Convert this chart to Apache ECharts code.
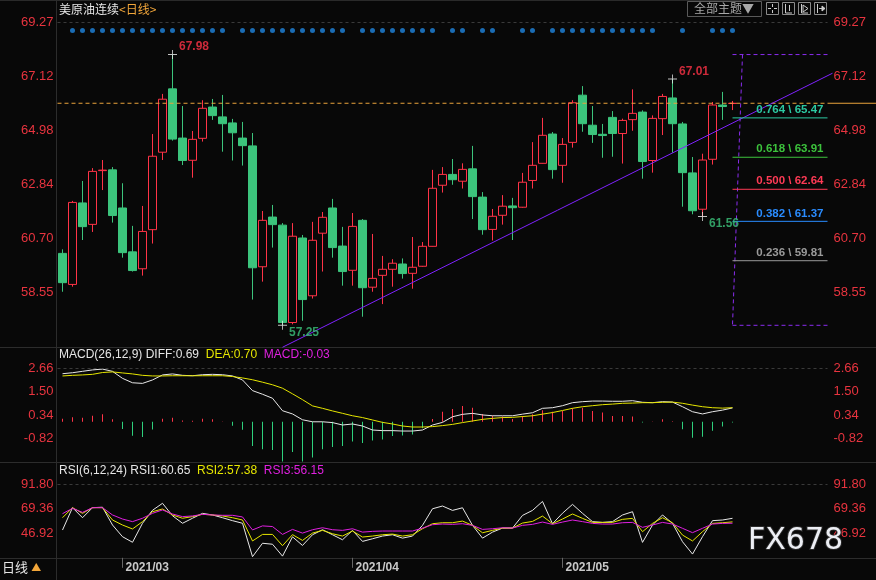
<!DOCTYPE html>
<html lang="zh-CN">
<head>
<meta charset="UTF-8">
<title>美原油连续 日线</title>
<script src="https://cdn.jsdelivr.net/npm/echarts@6/dist/echarts.min.js"></script>
<style>
  html, body { margin: 0; padding: 0; background: #080808; }
  #main { width: 876px; height: 580px; }
</style>
</head>
<body>
<div id="main"></div>
<script>
// ---- data ----
var dates = [
  '2021-02-19','2021-02-22','2021-02-23','2021-02-24','2021-02-25','2021-02-26',
  '2021-03-01','2021-03-02','2021-03-03','2021-03-04','2021-03-05','2021-03-08','2021-03-09','2021-03-10',
  '2021-03-11','2021-03-12','2021-03-15','2021-03-16','2021-03-17','2021-03-18','2021-03-19','2021-03-22',
  '2021-03-23','2021-03-24','2021-03-25','2021-03-26','2021-03-29','2021-03-30','2021-03-31',
  '2021-04-01','2021-04-05','2021-04-06','2021-04-07','2021-04-08','2021-04-09','2021-04-12','2021-04-13',
  '2021-04-14','2021-04-15','2021-04-16','2021-04-19','2021-04-20','2021-04-21','2021-04-22','2021-04-23',
  '2021-04-26','2021-04-27','2021-04-28','2021-04-29','2021-04-30',
  '2021-05-03','2021-05-04','2021-05-05','2021-05-06','2021-05-07','2021-05-10','2021-05-11','2021-05-12',
  '2021-05-13','2021-05-14','2021-05-17','2021-05-18','2021-05-19','2021-05-20','2021-05-21','2021-05-24',
  '2021-05-25','2021-05-26'
];
var opens = [60.10,58.87,62.10,61.25,63.38,63.41,61.90,60.16,59.49,61.04,
  64.11,66.62,64.67,63.79,64.66,65.90,65.51,65.27,64.67,64.36,
  59.57,61.54,61.22,57.36,60.71,58.42,60.90,61.90,60.39,59.43,
  61.41,58.76,59.23,59.47,59.68,59.31,59.59,60.38,62.80,63.23,
  62.96,63.45,62.33,61.05,61.61,61.98,61.93,62.99,63.67,64.83,
  63.59,64.50,66.37,65.18,64.82,65.49,64.85,65.40,65.70,63.78,
  65.44,66.26,65.23,63.29,61.85,63.83,65.98,66.04];
var closes = [58.94,62.12,61.16,63.35,63.40,61.60,60.13,59.42,60.97,63.95,
  66.21,64.63,63.78,64.62,65.85,65.56,65.24,64.88,64.37,59.53,
  61.41,61.24,57.36,60.78,58.27,60.62,61.53,60.33,59.38,61.17,
  58.74,59.11,59.47,59.71,59.30,59.55,60.38,62.68,63.23,63.02,
  63.43,62.35,61.04,61.57,61.97,61.91,62.92,63.59,64.78,63.42,
  64.42,66.07,65.24,64.81,64.77,64.85,65.37,65.65,63.74,65.45,
  66.32,65.24,63.30,61.79,63.80,65.98,65.92,66.05];
var lows = [58.58,58.78,60.63,60.95,62.61,61.32,59.93,59.38,59.22,60.49,
  63.80,64.57,63.60,63.10,64.53,65.39,64.13,63.78,63.58,58.27,
  58.98,60.33,57.25,57.29,57.43,58.31,59.38,59.93,58.82,58.82,
  57.59,58.58,58.09,58.78,59.10,58.70,59.57,60.37,62.51,62.82,
  62.67,61.46,60.84,60.61,61.24,60.63,61.91,62.67,63.66,63.06,
  62.90,64.29,64.92,64.48,63.89,63.93,63.66,64.96,63.06,63.30,
  64.79,64.09,61.95,61.65,61.56,63.62,65.39,65.78];
var highs = [60.26,62.18,62.97,63.48,63.80,63.52,62.88,61.19,61.98,64.83,
  66.42,67.98,65.94,64.95,66.17,66.22,66.38,65.43,65.31,64.87,
  61.78,62.02,61.30,61.30,60.83,61.35,61.74,62.26,61.15,61.70,
  61.46,60.87,60.00,59.87,59.90,60.75,60.55,63.41,63.52,63.84,
  63.67,64.36,62.53,61.86,62.41,62.30,63.29,64.51,65.47,64.91,
  64.67,66.17,66.73,65.94,65.23,65.74,65.44,66.60,65.77,65.57,
  66.42,67.01,65.31,63.92,64.05,66.10,66.50,66.14];

var macdHist = [0.15,0.22,0.20,0.30,0.37,0.13,-0.36,-0.69,-0.76,-0.38,
  0.15,0.20,0.07,0.05,0.15,0.12,0.02,-0.20,-0.40,-1.20,
  -1.37,-1.40,-1.98,-1.50,-1.98,-1.78,-1.37,-1.25,-1.20,-0.98,
  -1.05,-0.93,-0.88,-0.71,-0.68,-0.63,-0.32,0.14,0.50,0.63,
  0.79,0.70,0.39,0.30,0.26,0.14,0.29,0.37,0.57,0.50,
  0.54,0.67,0.70,0.54,0.46,0.29,0.29,0.26,-0.03,0.02,
  0.12,0.03,-0.37,-0.79,-0.74,-0.44,-0.24,-0.03];
var diffLine = [2.39,2.44,2.51,2.58,2.62,2.51,2.16,1.94,1.91,2.08,
  2.33,2.38,2.31,2.29,2.34,2.36,2.34,2.28,2.08,1.55,
  1.37,1.17,0.55,0.39,0.10,0.00,0.00,-0.04,-0.16,-0.11,
  -0.21,-0.41,-0.44,-0.44,-0.46,-0.46,-0.41,-0.16,-0.03,0.25,
  0.37,0.42,0.34,0.30,0.30,0.30,0.38,0.45,0.67,0.70,
  0.80,0.95,1.00,1.03,1.03,1.02,1.02,1.05,0.97,0.95,
  1.00,0.98,0.75,0.50,0.39,0.50,0.58,0.69];
var deaLine = [2.28,2.31,2.33,2.36,2.45,2.48,2.43,2.38,2.31,2.28,
  2.28,2.29,2.29,2.29,2.29,2.29,2.29,2.25,2.18,2.09,
  1.97,1.84,1.67,1.39,1.10,0.79,0.67,0.54,0.42,0.30,
  0.21,0.09,-0.03,-0.11,-0.21,-0.26,-0.26,-0.24,-0.19,-0.13,
  -0.04,0.04,0.12,0.17,0.21,0.22,0.26,0.30,0.38,0.46,
  0.56,0.67,0.75,0.80,0.85,0.88,0.92,0.93,0.95,0.95,
  0.97,0.98,0.92,0.83,0.75,0.70,0.68,0.70];

var rsi1 = [49.9,70.4,61.2,70.4,70.8,54.5,43.8,38.7,56.1,68.0,
  74.4,63.0,56.1,60.7,65.2,63.7,61.2,58.5,56.1,25.5,
  37.8,36.9,26.0,43.7,35.8,45.6,50.2,45.6,41.0,49.6,
  39.5,41.9,44.4,45.6,42.5,44.4,54.2,69.4,71.9,67.9,
  70.3,54.2,42.5,48.0,51.7,51.7,63.3,67.9,76.1,55.7,
  65.3,73.4,65.2,57.6,56.9,57.6,63.7,66.7,38.6,54.5,
  63.7,56.0,39.2,27.9,43.8,58.5,59.1,60.65];
var rsi2 = [61.2,70.4,65.2,70.4,70.4,59.1,54.5,50.9,57.6,66.7,
  69.2,63.7,60.7,62.2,64.3,63.7,62.8,61.2,59.1,39.9,
  45.9,45.9,35.6,45.7,40.4,47.1,49.6,46.5,44.4,49.0,
  43.5,44.4,45.6,46.2,44.4,45.6,51.1,55.7,56.6,56.6,
  58.1,54.2,47.4,49.6,51.7,51.7,56.3,57.8,62.7,55.7,
  60.0,64.6,60.6,56.9,56.9,56.9,59.7,60.6,48.4,56.0,
  61.2,56.6,45.3,39.9,48.4,56.0,56.6,57.38];
var rsi3 = [64.9,69.8,66.1,70.4,70.4,63.7,60.0,57.6,60.7,65.2,
  68.3,64.6,62.2,62.8,64.3,63.7,63.4,63.4,61.9,50.0,
  53.7,53.1,45.9,50.5,47.1,50.2,52.0,50.2,49.6,51.1,
  48.0,48.7,49.0,49.0,49.0,49.0,51.7,54.8,55.4,55.1,
  55.7,54.2,50.5,51.1,52.0,51.7,54.2,55.1,57.2,55.1,
  57.2,59.1,57.6,56.0,55.4,55.4,56.6,56.9,52.4,54.5,
  56.9,55.4,51.5,47.5,51.5,55.4,56.0,56.15];

var signalDots = [1,2,3,4,5,6,7,8,9,10,11,12,13,14,15,16,18,19,20,21,22,23,24,25,26,27,28,
  30,31,32,33,34,35,36,37,39,40,42,43,46,47,49,50,51,52,53,54,55,56,57,58,59,62,65,66,67];
var dotLevel = 68.93;

var extremes = [[11, 67.98], [22, 57.25], [61, 67.01], [64, 61.56]];
var fibRatios = [0.764, 0.618, 0.500, 0.382, 0.236];
var fibPrices = [65.47, 63.91, 62.64, 61.37, 59.81];
var fibHigh = 67.98, fibLow = 57.25;
var trendFrom = [22, 56.38], trendTo = [77, 67.24];

var priceTicks = [58.55, 60.70, 62.84, 64.98, 67.12, 69.27];
var macdTicks = [-0.82, 0.34, 1.50, 2.66];
var rsiTicks = [46.92, 69.36, 91.80];
var padSlots = 9;

// ---- styles ----
var RED = '#ff3347', GREEN = '#3cc47c', AXIS_RED = '#e8343f';
var fibColors = ['#2cc9a2', '#3cc23c', '#ff3a55', '#2a8cff', '#9a9a9a'];
var NUM_FONT = '"Liberation Sans", Arial, sans-serif';
var CJK_FONT = '"Noto Sans CJK SC", sans-serif';

var cats = dates.slice();
for (var i = 0; i < padSlots; i++) cats.push('pad' + i);
var last = dates.length - 1;

function isMonthStart(idx) {
  return idx > 0 && idx < dates.length && dates[idx].slice(5, 7) !== dates[idx - 1].slice(5, 7);
}

function xAx(g, show) {
  return {
    type: 'category', gridIndex: g, data: cats, boundaryGap: true,
    axisLine: { show: false },
    axisTick: show ? { show: true, alignWithLabel: true, length: 10, interval: isMonthStart, lineStyle: { color: '#666' } } : { show: false },
    axisLabel: show ? {
      show: true, interval: isMonthStart, align: 'left', margin: 4, padding: [0, 0, 0, 3],
      color: '#c8c8c8', fontWeight: 'bold', fontSize: 12, fontFamily: NUM_FONT,
      formatter: function (v) { return v.slice(0, 7).replace('-', '/'); }
    } : { show: false },
    splitLine: { show: false }
  };
}

function yAx(g, pos, min, max, ticks) {
  return {
    type: 'value', gridIndex: g, position: pos, min: min, max: max,
    axisLine: { show: false }, axisTick: { show: false }, splitLine: { show: false },
    axisLabel: {
      customValues: ticks, color: AXIS_RED, fontSize: 13, fontFamily: NUM_FONT,
      margin: pos === 'left' ? 4 : 6,
      formatter: function (v) { return v.toFixed(2); }
    }
  };
}

function topDash(v) {
  return { silent: true, symbol: 'none', label: { show: false }, animation: false,
    lineStyle: { color: '#3a3a3a', type: [3, 3], width: 1 }, data: [{ yAxis: v }] };
}

var plusSymbol = 'path://M4.5,0H5.5V4.5H10V5.5H5.5V10H4.5V5.5H0V4.5H4.5Z';

var markerData = extremes.map(function (e) {
  var isHigh = e[1] >= highs[e[0]] - 0.001 && e[1] > lows[e[0]] + 0.5;
  return {
    value: e,
    label: { color: isHigh ? RED : GREEN, offset: isHigh ? [0, -7.5] : [0, 7.5] }
  };
});

var chart = echarts.init(document.getElementById('main'));
var option = {
  backgroundColor: '#080808',
  animation: false,
  grid: [
    { left: 57.5, right: 48.5, top: 22, height: 324.6 },
    { left: 57.5, right: 48.5, top: 368.3, height: 93.7 },
    { left: 57.5, right: 48.5, top: 484.3, height: 73.5 }
  ],
  xAxis: [xAx(0, false), xAx(1, false), xAx(2, true)],
  yAxis: [
    yAx(0, 'left', 56.406, 69.27, priceTicks), yAx(0, 'right', 56.406, 69.27, priceTicks),
    yAx(1, 'left', -2.0, 2.66, macdTicks), yAx(1, 'right', -2.0, 2.66, macdTicks),
    yAx(2, 'left', 24.48, 91.80, rsiTicks), yAx(2, 'right', 24.48, 91.80, rsiTicks)
  ],
  series: [
    {
      type: 'candlestick', xAxisIndex: 0, yAxisIndex: 0, barWidth: 8,
      data: opens.map(function (o, i) { return [o, closes[i], lows[i], highs[i]]; }),
      itemStyle: { color: '#080808', color0: GREEN, borderColor: RED, borderColor0: GREEN, borderWidth: 1 },
      markLine: topDash(priceTicks[priceTicks.length - 1])
    },
    {
      type: 'scatter', xAxisIndex: 0, yAxisIndex: 0, silent: true, symbol: 'circle', symbolSize: 5,
      itemStyle: { color: '#1f86e0' },
      data: signalDots.map(function (i) { return [i, dotLevel]; })
    },
    {
      // current price line
      type: 'custom', xAxisIndex: 0, yAxisIndex: 0, silent: true, z: 5,
      data: [[last, closes[last]]],
      renderItem: function (params, api) {
        var pt = api.coord([api.value(0), api.value(1)]);
        var cs = params.coordSys, right = cs.x + cs.width;
        return { type: 'group', children: [
          { type: 'line', shape: { x1: cs.x, y1: pt[1], x2: right, y2: pt[1] }, style: { stroke: '#e9a23b', lineWidth: 1, lineDash: [4, 3] } },
          { type: 'line', shape: { x1: right, y1: pt[1], x2: api.getWidth(), y2: pt[1] }, style: { stroke: '#e9a23b', lineWidth: 1 } }
        ] };
      }
    },
    {
      // trend line
      type: 'custom', xAxisIndex: 0, yAxisIndex: 0, silent: true, z: 5,
      data: [[trendFrom[0], trendFrom[1], trendTo[0], trendTo[1]]],
      renderItem: function (params, api) {
        var p1 = api.coord([api.value(0), api.value(1)]);
        var p2 = api.coord([api.value(2), api.value(3)]);
        return { type: 'line', shape: { x1: p1[0], y1: p1[1], x2: p2[0], y2: p2[1] }, style: { stroke: '#7f22ff', lineWidth: 1 } };
      }
    },
    {
      // fibonacci frame
      type: 'custom', xAxisIndex: 0, yAxisIndex: 0, silent: true, z: 5,
      data: [[last, fibHigh, last + 1, fibLow]],
      renderItem: function (params, api) {
        var cs = params.coordSys, right = cs.x + cs.width;
        var a = api.coord([api.value(0), api.value(1)]);
        var b = api.coord([api.value(0), api.value(3)]);
        var c = api.coord([api.value(2), api.value(1)]);
        var st = { stroke: '#8a2cf0', lineWidth: 1, lineDash: [4, 3] };
        return { type: 'group', children: [
          { type: 'line', shape: { x1: a[0], y1: a[1], x2: right, y2: a[1] }, style: st },
          { type: 'line', shape: { x1: b[0], y1: b[1], x2: right, y2: b[1] }, style: st },
          { type: 'line', shape: { x1: c[0], y1: c[1], x2: b[0], y2: b[1] }, style: st }
        ] };
      }
    },
    {
      // fibonacci levels
      type: 'custom', xAxisIndex: 0, yAxisIndex: 0, silent: true, z: 5,
      data: fibPrices.map(function (p, i) { return [last, p, fibRatios[i]]; }),
      renderItem: function (params, api) {
        var cs = params.coordSys, right = cs.x + cs.width;
        var pt = api.coord([api.value(0), api.value(1)]);
        var col = fibColors[params.dataIndex];
        return { type: 'group', children: [
          { type: 'line', shape: { x1: pt[0], y1: pt[1], x2: right, y2: pt[1] }, style: { stroke: col, lineWidth: 1 } },
          { type: 'text', x: right - 4, y: pt[1] - 2, style: {
            text: api.value(2).toFixed(3) + ' \\ ' + api.value(1).toFixed(2),
            fill: col, font: 'bold 11.5px ' + NUM_FONT, align: 'right', verticalAlign: 'bottom' } }
        ] };
      }
    },
    {
      // high / low markers
      type: 'scatter', xAxisIndex: 0, yAxisIndex: 0, silent: true, z: 6,
      symbol: plusSymbol, symbolSize: 9, itemStyle: { color: '#f2f2f2' },
      label: { show: true, position: 'right', distance: 2, fontSize: 12, fontWeight: 'bold', fontFamily: NUM_FONT,
        formatter: function (p) { return p.value[1].toFixed(2); } },
      data: markerData
    },
    {
      type: 'bar', xAxisIndex: 1, yAxisIndex: 2, barWidth: 1, silent: true,
      data: macdHist,
      itemStyle: { color: function (p) { return p.value >= 0 ? RED : '#2ed07c'; } }
    },
    {
      type: 'line', xAxisIndex: 1, yAxisIndex: 2, data: diffLine, showSymbol: false, silent: true,
      lineStyle: { color: '#e8e8e8', width: 1 }, markLine: topDash(macdTicks[macdTicks.length - 1])
    },
    {
      type: 'line', xAxisIndex: 1, yAxisIndex: 2, data: deaLine, showSymbol: false, silent: true,
      lineStyle: { color: '#e6e600', width: 1 }
    },
    {
      type: 'line', xAxisIndex: 2, yAxisIndex: 4, data: rsi1, showSymbol: false, silent: true,
      lineStyle: { color: '#e8e8e8', width: 1 }, markLine: topDash(rsiTicks[rsiTicks.length - 1])
    },
    {
      type: 'line', xAxisIndex: 2, yAxisIndex: 4, data: rsi2, showSymbol: false, silent: true,
      lineStyle: { color: '#e6e600', width: 1 }
    },
    {
      type: 'line', xAxisIndex: 2, yAxisIndex: 4, data: rsi3, showSymbol: false, silent: true,
      lineStyle: { color: '#e020e0', width: 1 }
    }
  ],
  graphic: [
    { type: 'line', shape: { x1: 0, y1: 0.5, x2: 876, y2: 0.5 }, style: { stroke: '#2a2a2a' }, silent: true },
    { type: 'line', shape: { x1: 0, y1: 347.5, x2: 876, y2: 347.5 }, style: { stroke: '#2c2c2c' }, silent: true },
    { type: 'line', shape: { x1: 0, y1: 462.5, x2: 876, y2: 462.5 }, style: { stroke: '#2c2c2c' }, silent: true },
    { type: 'line', shape: { x1: 0, y1: 558.5, x2: 876, y2: 558.5 }, style: { stroke: '#2c2c2c' }, silent: true },
    { type: 'line', shape: { x1: 56.5, y1: 0, x2: 56.5, y2: 580 }, style: { stroke: '#2c2c2c' }, silent: true },
    {
      type: 'text', left: 59, top: 3, silent: true,
      style: { text: '{a|美原油连续}{b|<日线>}', rich: {
        a: { fill: '#e6e6e6', fontSize: 12, fontFamily: CJK_FONT },
        b: { fill: '#f2a63a', fontSize: 12, fontFamily: CJK_FONT } } }
    },
    {
      type: 'text', left: 59, top: 349, silent: true,
      style: { text: '{w|MACD(26,12,9) DIFF:' + diffLine[last].toFixed(2) + '}  {y|DEA:' + deaLine[last].toFixed(2) + '}  {m|MACD:' + macdHist[last].toFixed(2) + '}',
        rich: { w: { fill: '#e6e6e6', fontSize: 12, fontFamily: NUM_FONT },
                y: { fill: '#e6e600', fontSize: 12, fontFamily: NUM_FONT },
                m: { fill: '#e020e0', fontSize: 12, fontFamily: NUM_FONT } } }
    },
    {
      type: 'text', left: 59, top: 465, silent: true,
      style: { text: '{w|RSI(6,12,24) RSI1:' + rsi1[last].toFixed(2) + '}  {y|RSI2:' + rsi2[last].toFixed(2) + '}  {m|RSI3:' + rsi3[last].toFixed(2) + '}',
        rich: { w: { fill: '#e6e6e6', fontSize: 12, fontFamily: NUM_FONT },
                y: { fill: '#e6e600', fontSize: 12, fontFamily: NUM_FONT },
                m: { fill: '#e020e0', fontSize: 12, fontFamily: NUM_FONT } } }
    },
    {
      type: 'text', left: 2, top: 561, silent: true,
      style: { text: '{a|日线} {b|▲}', rich: {
        a: { fill: '#e6e6e6', fontSize: 13, fontFamily: CJK_FONT },
        b: { fill: '#f2a63a', fontSize: 10, fontFamily: CJK_FONT } } }
    },
    { type: 'rect', shape: { x: 687.5, y: 1.5, width: 74, height: 15 }, style: { fill: 'none', stroke: '#5a5a5a' }, silent: true },
    { type: 'text', left: 694, top: 2, silent: true, style: { text: '全部主题▼', fill: '#a8a8a8', fontSize: 12, fontFamily: CJK_FONT } },
    { type: 'rect', shape: { x: 766.5, y: 2.5, width: 12, height: 12 }, style: { fill: 'none', stroke: '#8a8a8a' }, silent: true },
    { type: 'rect', shape: { x: 782.5, y: 2.5, width: 12, height: 12 }, style: { fill: 'none', stroke: '#8a8a8a' }, silent: true },
    { type: 'rect', shape: { x: 798.5, y: 2.5, width: 12, height: 12 }, style: { fill: 'none', stroke: '#8a8a8a' }, silent: true },
    { type: 'rect', shape: { x: 814.5, y: 2.5, width: 12, height: 12 }, style: { fill: 'none', stroke: '#8a8a8a' }, silent: true },
    { type: 'polyline', shape: { points: [[772.5, 4], [772.5, 7]] }, style: { stroke: '#ccc' }, silent: true },
    { type: 'polyline', shape: { points: [[772.5, 10], [772.5, 13]] }, style: { stroke: '#ccc' }, silent: true },
    { type: 'polyline', shape: { points: [[768, 8.5], [771, 8.5]] }, style: { stroke: '#ccc' }, silent: true },
    { type: 'polyline', shape: { points: [[774, 8.5], [777, 8.5]] }, style: { stroke: '#ccc' }, silent: true },
    { type: 'polyline', shape: { points: [[785.5, 4], [785.5, 13], [792, 13]] }, style: { stroke: '#ccc', fill: 'none' }, silent: true },
    { type: 'polyline', shape: { points: [[789.5, 5], [789.5, 11]] }, style: { stroke: '#ccc' }, silent: true },
    { type: 'polyline', shape: { points: [[801.5, 4], [801.5, 13], [808, 13]] }, style: { stroke: '#ccc', fill: 'none' }, silent: true },
    { type: 'polygon', shape: { points: [[803, 5], [808, 8.5], [803, 12]] }, style: { stroke: '#ccc', fill: 'none' }, silent: true },
    { type: 'polyline', shape: { points: [[817.5, 4], [817.5, 13]] }, style: { stroke: '#ccc' }, silent: true },
    { type: 'polyline', shape: { points: [[819, 8.5], [825, 8.5]] }, style: { stroke: '#ccc' }, silent: true },
    { type: 'polygon', shape: { points: [[822, 6], [825, 8.5], [822, 11]] }, style: { stroke: '#ccc', fill: '#ccc' }, silent: true },
    {
      type: 'text', left: 747, top: 525, silent: true, z: 100,
      style: { text: 'FX678', fill: '#eceef4', stroke: '#2a2a2a', lineWidth: 2, fontSize: 30, fontFamily: '"DejaVu Sans", sans-serif' }
    }
  ]
};
option && chart.setOption(option);
</script>
</body>
</html>
